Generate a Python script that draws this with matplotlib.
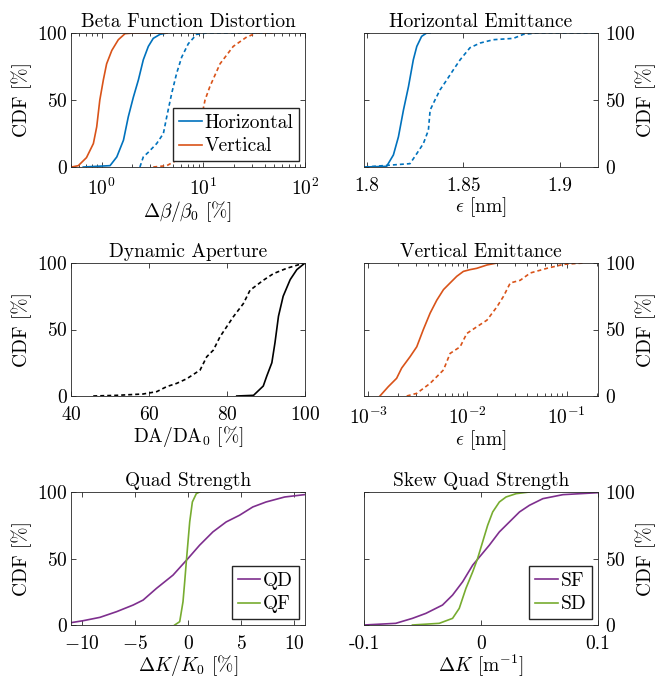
import numpy as np
import matplotlib
matplotlib.use("Agg")
import matplotlib.pyplot as plt
from matplotlib.ticker import LogLocator, NullFormatter

plt.rcParams["font.family"] = ["cmr10"]
plt.rcParams["mathtext.fontset"] = "cm"
plt.rcParams["axes.unicode_minus"] = False
plt.rcParams["axes.formatter.use_mathtext"] = True
plt.rcParams["font.size"] = 14

BLUE = "#0072BD"
ORANGE = "#D95319"
PURPLE = "#7E2F8E"
GREEN = "#77AC30"
AXC = "#262626"

# --- beta function distortion (%)
beta_h_x = [0.66, 1.21, 1.41, 1.64, 1.83, 2.05, 2.30, 2.57, 2.88, 3.22, 3.75, 4.37]
beta_h_y = [0, 1, 7.5, 20, 37.5, 52, 65, 80, 90, 96, 99, 100]
beta_h_err_x = [2.38, 2.57, 2.88, 3.48, 4.05, 4.37, 4.89, 5.47, 6.13, 7.12, 8.6, 10.8, 48]
beta_h_err_y = [0, 7.5, 11, 17.5, 25, 37.5, 55, 70, 82, 92, 99, 100, 100]
beta_v_x = [0.508, 0.59, 0.71, 0.83, 0.895, 0.96, 1.04, 1.12, 1.26, 1.46, 1.70, 2.05, 4.4]
beta_v_y = [0, 1, 7, 17.5, 30, 50, 65, 77, 87, 95, 99.5, 100, 100]
beta_v_err_x = [3.22, 4.37, 5.47, 6.85, 8.6, 9.6, 10.4, 11.6, 14.6, 19.7, 26.7, 33.5, 48]
beta_v_err_y = [0, 1, 5, 10, 20, 37, 50, 60, 77, 90, 97, 100, 100]

# --- horizontal emittance (nm)
emx_x = [1.7991, 1.8103, 1.8138, 1.8164, 1.8190, 1.8216, 1.8241, 1.8259, 1.8284, 1.8310, 1.8328]
emx_y = [0, 0.5, 9, 22.5, 42.5, 60, 80, 90, 97.5, 100, 100]
emx_err_x = [1.7991, 1.8224, 1.8259, 1.8293, 1.8319, 1.8328, 1.8353, 1.8379, 1.8414, 1.8448,
             1.8483, 1.8534, 1.8586, 1.8655, 1.8759, 1.8810, 1.8879, 1.9198]
emx_err_y = [0, 2.5, 10, 17.5, 27.5, 42.5, 50, 57.5, 65, 72.5, 80, 89, 92.5, 95, 96, 99, 100, 100]

# --- dynamic aperture (% of DA0)
da_x = [82.5, 86.8, 89.3, 90.2, 91.5, 92.3, 93.2, 94.4, 96.2, 97.9, 100]
da_y = [0, 0.5, 7.5, 15, 25, 40, 60, 75, 87.5, 95, 100]
da_err_x = [45.7, 51.7, 58.5, 62.0, 64.5, 67.1, 69.7, 73.1, 74.8, 76.5, 78.2, 79.9, 81.6,
            84.2, 85.9, 89.3, 91.9, 95.3, 98.7, 100]
da_err_y = [0, 0.5, 1.5, 3.3, 7, 9.5, 13, 19.5, 29.5, 34.5, 44.5, 52, 59.5, 69.5, 79.5,
            87, 92, 96, 99, 100]

# --- vertical emittance (nm)
emy_x = [1.31e-3, 1.59e-3, 1.93e-3, 2.17e-3, 2.64e-3, 3.08e-3, 3.59e-3, 4.2e-3, 4.9e-3,
         5.73e-3, 6.68e-3, 7.8e-3, 9.1e-3, 1.06e-2, 1.24e-2, 1.57e-2, 1.98e-2]
emy_y = [0, 7, 13.3, 21, 29.6, 37, 50, 62.3, 72, 80, 85, 90, 93.7, 95, 96, 98.5, 100]
emy_err_x = [2.44e-3, 3.08e-3, 4.2e-3, 5.73e-3, 6.68e-3, 8.43e-3, 9.84e-3, 1.24e-2, 1.57e-2,
             1.98e-2, 2.31e-2, 2.70e-2, 3.40e-2, 4.30e-2, 6.33e-2, 9.33e-2, 0.149]
emy_err_y = [0, 2, 9.5, 19.6, 32, 37, 47, 52, 57, 67, 75, 85, 87, 92.5, 96, 99, 100]

# --- quad strength (%)
qd_x = [-11, -9.84, -8.28, -6.72, -5.16, -4.22, -2.97, -1.41, 0.0, 1.09, 2.34, 3.59, 4.84,
        6.09, 7.34, 9.09, 10.94]
qd_y = [1.75, 3.25, 5.75, 10, 15, 18.75, 27.5, 37.5, 50, 60, 70, 77.5, 82.5, 88.75, 92.5,
        96.25, 98]
qf_x = [-1.25, -0.78, -0.47, -0.31, -0.16, 0.0, 0.16, 0.41, 0.78, 1.09]
qf_y = [0, 2.5, 17.5, 32.5, 47.5, 62.5, 77.5, 92.5, 98.75, 100]

# --- skew quad strength (1/m)
sf_x = [-0.1, -0.0729, -0.0586, -0.0471, -0.0329, -0.0243, -0.0157, -0.0071, 0.0, 0.0071,
        0.0157, 0.0243, 0.0329, 0.0414, 0.0529, 0.07, 0.1]
sf_y = [0, 1.25, 5, 8.75, 15, 22.5, 32.5, 45, 52.5, 60, 70, 77.5, 85, 90, 95, 98, 99.5]
sd_x = [-0.0586, -0.0357, -0.0243, -0.0186, -0.0129, -0.0071, -0.0029, 0.0014, 0.0057, 0.01,
        0.0157, 0.0214, 0.03, 0.0414]
sd_y = [0, 1.25, 5, 12.5, 27.5, 40, 50, 62.5, 75, 85, 92.5, 96.25, 98.75, 100]

W, H = 657, 679
fig = plt.figure(figsize=(W / 100, H / 100), dpi=100)

FS = 14


def make_ax(x0, y0, x1, y1, right=False):
    ax = fig.add_axes([x0 / W, 1 - y1 / H, (x1 - x0) / W, (y1 - y0) / H])
    for s in ax.spines.values():
        s.set_color(AXC)
        s.set_linewidth(0.6)
    ax.tick_params(which="both", direction="in", top=True, right=True, colors=AXC,
                   labelcolor="black", width=0.6)
    ax.tick_params(axis="x", pad=7.5)
    ax.tick_params(axis="y", pad=5 if right else 2.5)
    ax.tick_params(which="major", length=3.5)
    ax.tick_params(which="minor", length=2)
    ax.set_ylim(0, 100)
    ax.set_yticks([0, 50, 100])
    if right:
        ax.tick_params(axis="y", labelleft=False, labelright=True)
        ax.yaxis.set_label_position("right")
        ax.set_ylabel("CDF [%]", fontsize=FS, labelpad=0)
    else:
        ax.set_ylabel("CDF [%]", fontsize=FS, labelpad=4)
    return ax


def add_legend(ax):
    ax.legend(loc="lower right", fancybox=False, edgecolor=AXC, framealpha=1,
              handlelength=1.15, handletextpad=0.15, borderpad=0.3, borderaxespad=0.3,
              labelspacing=0.3)


DASH = (0, (2.4, 1.8))
LW = 1.2

# Beta function
ax = make_ax(71, 33, 305, 167)
ax.semilogx(beta_h_x, beta_h_y, color=BLUE, lw=LW, label="Horizontal")
ax.semilogx(beta_v_x, beta_v_y, color=ORANGE, lw=LW, label="Vertical")
ax.semilogx(beta_h_err_x, beta_h_err_y, color=BLUE, lw=LW, ls=DASH)
ax.semilogx(beta_v_err_x, beta_v_err_y, color=ORANGE, lw=LW, ls=DASH)
ax.set_xlim(0.5, 100)
ax.xaxis.set_major_locator(LogLocator(base=10, numticks=5))
ax.xaxis.set_minor_locator(LogLocator(base=10, subs=np.arange(2, 10), numticks=20))
ax.xaxis.set_minor_formatter(NullFormatter())
ax.set_title("Beta Function Distortion", fontsize=FS, pad=4)
ax.set_xlabel(r"$\Delta\beta/\beta_0$ [%]", fontsize=FS, labelpad=0)
add_legend(ax)

# Horizontal emittance
ax = make_ax(364, 33, 598, 167, right=True)
ax.plot(emx_x, emx_y, color=BLUE, lw=LW)
ax.plot(emx_err_x, emx_err_y, color=BLUE, lw=LW, ls=DASH)
ax.set_xlim(1.7986, 1.9196)
ax.set_xticks([1.8, 1.85, 1.9])
ax.set_xticklabels(["1.8", "1.85", "1.9"])
ax.set_title("Horizontal Emittance", fontsize=FS, pad=4)
ax.set_xlabel(r"$\epsilon$ [nm]", fontsize=FS, labelpad=0)

# Dynamic aperture
ax = make_ax(71, 263, 305, 396)
ax.plot(da_x, da_y, color="black", lw=LW)
ax.plot(da_err_x, da_err_y, color="black", lw=LW, ls=DASH)
ax.set_xlim(40, 100)
ax.set_xticks([40, 60, 80, 100])
ax.set_title("Dynamic Aperture", fontsize=FS, pad=4)
ax.set_xlabel(r"DA/DA$_0$ [%]", fontsize=FS, labelpad=0)

# Vertical emittance
ax = make_ax(364, 263, 598, 396, right=True)
ax.semilogx(emy_x, emy_y, color=ORANGE, lw=LW)
ax.semilogx(emy_err_x, emy_err_y, color=ORANGE, lw=LW, ls=DASH)
ax.set_xlim(9.05e-4, 0.207)
ax.xaxis.set_major_locator(LogLocator(base=10, numticks=5))
ax.xaxis.set_minor_locator(LogLocator(base=10, subs=np.arange(2, 10), numticks=20))
ax.xaxis.set_minor_formatter(NullFormatter())
ax.set_title("Vertical Emittance", fontsize=FS, pad=4)
ax.set_xlabel(r"$\epsilon$ [nm]", fontsize=FS, labelpad=0)

# Quad strength
ax = make_ax(71, 492, 305, 625)
ax.plot(qd_x, qd_y, color=PURPLE, lw=LW, label="QD")
ax.plot(qf_x, qf_y, color=GREEN, lw=LW, label="QF")
ax.set_xlim(-11, 11)
ax.set_xticks([-10, -5, 0, 5, 10])
ax.set_title("Quad Strength", fontsize=FS, pad=4)
ax.set_xlabel(r"$\Delta K/K_0$ [%]", fontsize=FS, labelpad=0)
add_legend(ax)

# Skew quad strength
ax = make_ax(364, 492, 598, 625, right=True)
ax.plot(sf_x, sf_y, color=PURPLE, lw=LW, label="SF")
ax.plot(sd_x, sd_y, color=GREEN, lw=LW, label="SD")
ax.set_xlim(-0.1, 0.1)
ax.set_xticks([-0.1, 0, 0.1])
ax.set_xticklabels(["-0.1", "0", "0.1"])
ax.set_title("Skew Quad Strength", fontsize=FS, pad=4)
ax.set_xlabel(r"$\Delta K$ [m$^{-1}$]", fontsize=FS, labelpad=0)
add_legend(ax)

fig.savefig("out.png", dpi=100)
